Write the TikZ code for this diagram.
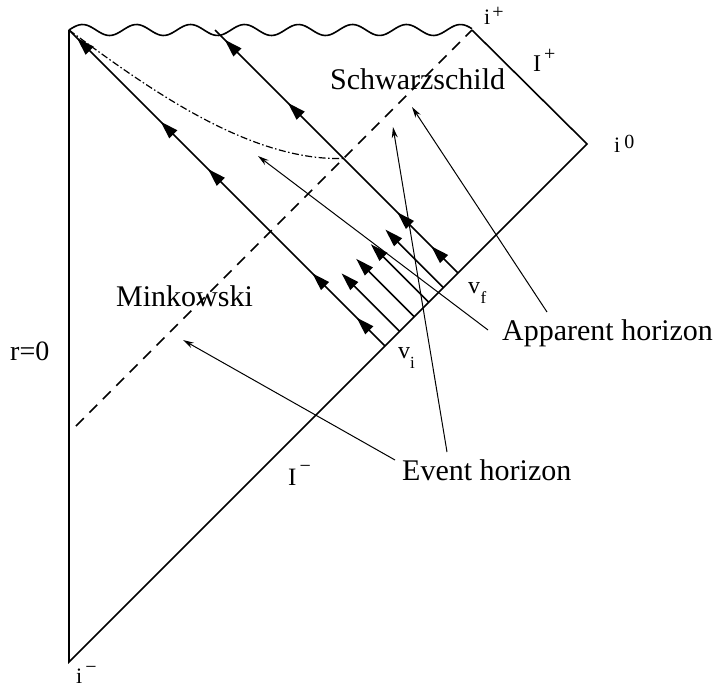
\documentclass[tikz,border=0pt]{standalone}
\usepackage{fontspec}
\setmainfont{Liberation Serif}
\usetikzlibrary{arrows.meta, decorations.markings, calc}

\newcommand{\supmark}[2][9pt]{\raisebox{#1}{\fontsize{20}{22}\selectfont #2}}
\newcommand{\submark}[2][-10pt]{\raisebox{#1}{\fontsize{17}{19}\selectfont #2}}

\tikzset{
    penrose/.style={line width=1.6pt},
    ray/.style={line width=1.6pt},
    raytip/.style={-{Triangle[length=18pt, width=11pt]}},
    head at/.style={postaction={decorate, decoration={markings,
        mark=at position #1 with {\arrow{Triangle[length=18pt, width=11pt]}}}}},
    horizon/.style={line width=1.6pt, dash pattern=on 11pt off 8pt},
    apparent/.style={line width=1.2pt, dash pattern=on 7pt off 2.5pt on 1.5pt off 2.5pt},
    pointer/.style={line width=1pt, -{Stealth[length=11pt, width=6pt]}},
    region/.style={font=\fontsize{30}{36}\selectfont, inner sep=0pt, anchor=base west},
    tag/.style={font=\fontsize{24}{28}\selectfont, inner sep=0pt, anchor=base west}
}

\begin{document}
\begin{tikzpicture}[x=1pt, y=-1pt]
        \useasboundingbox (0,0) rectangle (717,690);

        \coordinate (top) at (69,30);
        \coordinate (bot) at (69,662);
        \coordinate (ip) at (472,30);
        \coordinate (izero) at (587,144);
        \coordinate (vi) at (385,346);
        \coordinate (vf) at (458,273);
        \coordinate (sing) at (215,30);
        \coordinate (ehend) at (76,426);
        \coordinate (meet) at (343,158.5);

        \draw[penrose] (top) -- (bot) -- (izero) -- (ip);
        \draw[penrose] plot[domain=0:403, samples=160] ({69+\x}, {30-5.5*sin(6.6667*\x)});

        \draw[horizon] (ehend) -- (ip);
        \draw[apparent] (top) .. controls (150,90) and (250,161) .. (meet);

        \draw[ray, head at=0.09, head at=0.23, head at=0.56, head at=0.71, head at=0.975] (vi) -- (top);
        \draw[ray, head at=0.11, head at=0.25, head at=0.70, head at=0.96] (vf) -- (sing);
        \foreach \k in {1,...,4}
            \draw[ray, raytip] ($(vi)!\k/5!(vf)$) -- ++(-58,-58);

        \node[region] (schw) at (330,90) {Schwarzschild};
        \node[region] (mink) at (116,306) {Minkowski};
        \node[region] (app) at (502,340) {Apparent horizon};
        \node[region] (event) at (402,480) {Event horizon};

        \node[tag, font=\fontsize{28}{32}\selectfont] (rzero) at (10,360) {r=0};
        \node[tag, font=\fontsize{22}{26}\selectfont] (iplus) at (484,25) {i\kern2pt\supmark[6pt]{+}};
        \node[tag] (scriplus) at (533,72) {I\kern3pt\supmark[11pt]{+}};
        \node[tag, font=\fontsize{22}{26}\selectfont] (inull) at (614,153) {i\kern4pt\supmark[4pt]{0}};
        \node[tag, font=\fontsize{22}{26}\selectfont] (iminus) at (76,683) {i\kern3pt\supmark[10pt]{−}};
        \node[tag, font=\fontsize{25}{28}\selectfont] (scriminus) at (288,485) {I\kern3pt\supmark[13pt]{−}};
        \node[tag] (vilab) at (398,358) {v\submark{i}};
        \node[tag] (vflab) at (468,293) {v\kern0.5pt\submark{f}};

        \coordinate (ahfoot1) at (488,330);
        \coordinate (ahtip1) at (258,156);
        \coordinate (ahfoot2) at (547,312);
        \coordinate (ahtip2) at (412,107);
        \coordinate (ehfoot1) at (395,460);
        \coordinate (ehtip1) at (183,340);
        \coordinate (ehfoot2) at (447,452);
        \coordinate (ehtip2) at (393,127);

        \draw[pointer] (ahfoot1) -- (ahtip1);
        \draw[pointer] (ahfoot2) -- (ahtip2);
        \draw[pointer] (ehfoot1) -- (ehtip1);
        \draw[pointer] (ehfoot2) -- (ehtip2);
\end{tikzpicture}
\end{document}
